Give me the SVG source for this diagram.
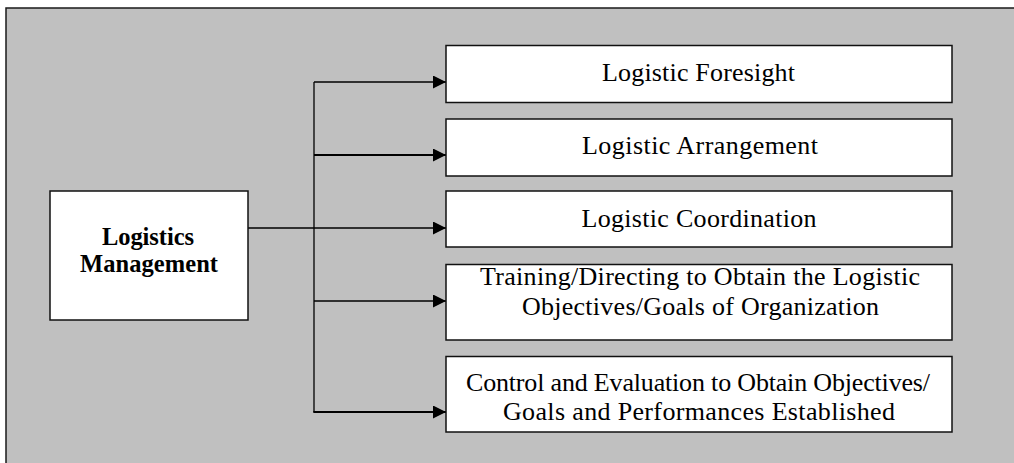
<svg xmlns="http://www.w3.org/2000/svg" width="1014" height="463" viewBox="0 0 1014 463">
<style>
.frame{fill:#c0c0c0;stroke:#1a1a1a;stroke-width:1.5}
.box{fill:#ffffff;stroke:#111;stroke-width:1.5}
.t{font-family:"Liberation Serif","Times New Roman",serif;font-size:26px;fill:#000;text-anchor:middle}
.tb{font-family:"Liberation Serif","Times New Roman",serif;font-size:24.5px;font-weight:bold;fill:#000;text-anchor:middle}
.ln{stroke:#000;stroke-width:1.3;fill:none}
.lnb{stroke:#000;stroke-width:2;fill:none}
</style>
<defs>
<marker id="ah" markerUnits="userSpaceOnUse" viewBox="0 0 13 13" refX="13" refY="6.5" markerWidth="13" markerHeight="13" orient="auto">
<path d="M0,0 L13,6.5 L0,13 Z" fill="#000"/>
</marker>
</defs>
<rect class="frame" x="6" y="8" width="1020" height="470"/>
<g id="connectors">
<line class="ln" x1="314" y1="82" x2="314" y2="412"/>
<line class="ln" x1="314" y1="82" x2="446" y2="82" marker-end="url(#ah)"/>
<line class="lnb" x1="314" y1="155" x2="446" y2="155" marker-end="url(#ah)"/>
<line class="ln" x1="248" y1="228" x2="446" y2="228" marker-end="url(#ah)"/>
<line class="ln" x1="314" y1="301" x2="446" y2="301" marker-end="url(#ah)"/>
<line class="lnb" x1="313.3" y1="412" x2="446" y2="412" marker-end="url(#ah)"/>
</g>
<g id="logistics-management">
<rect class="box" x="50" y="191" width="198" height="129"/>
<text class="tb" x="148" y="245" textLength="92">Logistics</text>
<text class="tb" x="149" y="272" textLength="138">Management</text>
</g>
<g id="logistic-foresight">
<rect class="box" x="446" y="45.5" width="506" height="57"/>
<text class="t" x="698.5" y="80.5" textLength="193">Logistic Foresight</text>
</g>
<g id="logistic-arrangement">
<rect class="box" x="446" y="119" width="506" height="57"/>
<text class="t" x="700" y="153.5" textLength="236">Logistic Arrangement</text>
</g>
<g id="logistic-coordination">
<rect class="box" x="446" y="191" width="506" height="56"/>
<text class="t" x="699" y="227" textLength="235">Logistic Coordination</text>
</g>
<g id="training-directing">
<rect class="box" x="446" y="264.5" width="506" height="75.5"/>
<text class="t" x="700" y="285" textLength="440">Training/Directing to Obtain the Logistic</text>
<text class="t" x="700.5" y="315" textLength="357">Objectives/Goals of Organization</text>
</g>
<g id="control-evaluation">
<rect class="box" x="446" y="356.5" width="506" height="75.5"/>
<text class="t" x="698" y="391" textLength="464">Control and Evaluation to Obtain Objectives/</text>
<text class="t" x="699" y="419.5" textLength="392">Goals and Performances Established</text>
</g>
</svg>
